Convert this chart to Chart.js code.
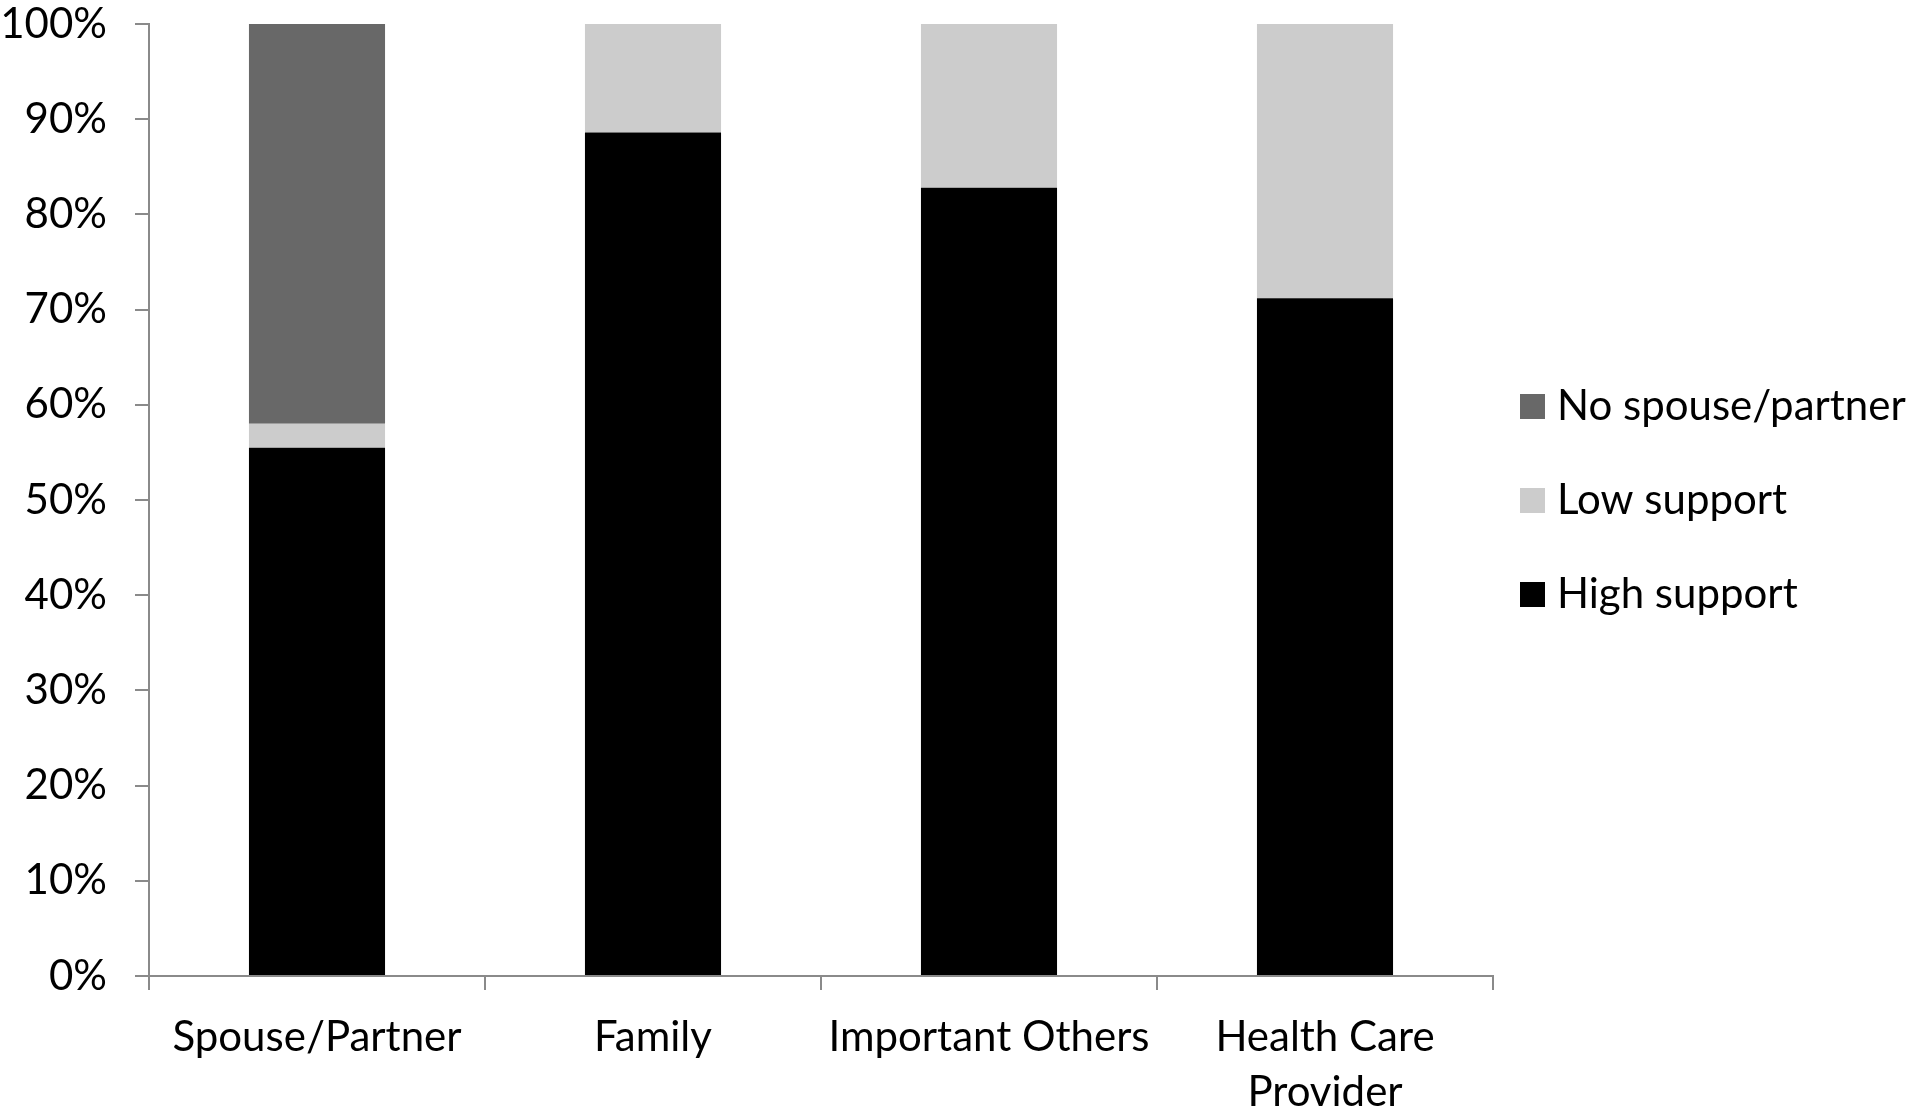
<!DOCTYPE html>
<html>
<head>
<meta charset="utf-8">
<script src="https://cdn.jsdelivr.net/npm/chart.js@4/dist/chart.umd.min.js"></script>
<style>
html, body { margin: 0; padding: 0; background: #fff; }
#wrap { width: 1920px; height: 1114px; }
</style>
</head>
<body>
<div id="wrap"><canvas id="c" width="1920" height="1114"></canvas></div>
<script>
// данные
const categories = ['Spouse/Partner', 'Family', 'Important Others', ['Health Care', 'Provider']];
const highSupport = [55.5, 88.6, 82.8, 71.2];
const lowSupport = [2.5, 11.4, 17.2, 28.8];
const noPartner = [42.0, 0, 0, 0];
const seriesNames = ['High support', 'Low support', 'No spouse/partner'];
const yTicks = [0, 10, 20, 30, 40, 50, 60, 70, 80, 90, 100];

const FONT = 'Lato, "Open Sans", sans-serif';
const FSIZE = 42;
const AXIS = '#8a8a8a';

// легенда справа, рисуем сами (порядок обратный)
const sideLegend = {
	id: 'sideLegend',
	afterDraw(chart){
		const ctx = chart.ctx;
		const a = chart.chartArea;
		const ds = chart.data.datasets.slice().reverse();
		const mid = (a.top + a.bottom) / 2;
		const step = 94;
		ctx.save();
		ctx.font = FSIZE + 'px ' + FONT;
		ctx.textBaseline = 'middle';
		ctx.textAlign = 'left';
		ds.forEach((d, i) => {
			const cy = mid + (i - 1) * step;
			ctx.fillStyle = d.backgroundColor;
			ctx.fillRect(a.right + 27, cy - 12, 25, 25);
			ctx.fillStyle = '#000';
			ctx.fillText(d.label, a.right + 64, cy);
		});
		ctx.restore();
	}
};

new Chart(document.getElementById('c'), {
	type: 'bar',
	data: {
		labels: categories,
		datasets: [
			{label: seriesNames[0], data: highSupport, backgroundColor: '#000000'},
			{label: seriesNames[1], data: lowSupport, backgroundColor: '#cccccc'},
			{label: seriesNames[2], data: noPartner, backgroundColor: '#686868'}
		]
	},
	options: {
		responsive: false,
		animation: false,
		layout: {padding: {left: 0, top: 24, right: 427, bottom: 0}},
		plugins: {legend: {display: false}, tooltip: {enabled: false}},
		datasets: {bar: {categoryPercentage: 1, barPercentage: 0.405}},
		scales: {
			x: {
				stacked: true,
				afterFit(s){ s.height = 138; },
				border: {color: AXIS, width: 2},
				grid: {offset: true, drawOnChartArea: false, tickLength: 14, color: AXIS, lineWidth: 2},
				ticks: {color: '#000', padding: 20, maxRotation: 0, autoSkip: false,
					font: {family: FONT, size: FSIZE, lineHeight: 1.31}}
			},
			y: {
				stacked: true,
				min: 0, max: 100,
				afterFit(s){
					s.width = 149;
					// верхняя подпись "100%" не должна сдвигать область графика
					s.paddingTop = 0;
					s.paddingBottom = 0;
				},
				afterBuildTicks(s){ s.ticks = yTicks.map(v => ({value: v})); },
				border: {color: AXIS, width: 2},
				grid: {drawOnChartArea: false, tickLength: 14, color: AXIS, lineWidth: 2},
				ticks: {color: '#000', padding: 28, callback: v => v + '%',
					font: {family: FONT, size: FSIZE}}
			}
		}
	},
	plugins: [sideLegend]
});
</script>
</body>
</html>
